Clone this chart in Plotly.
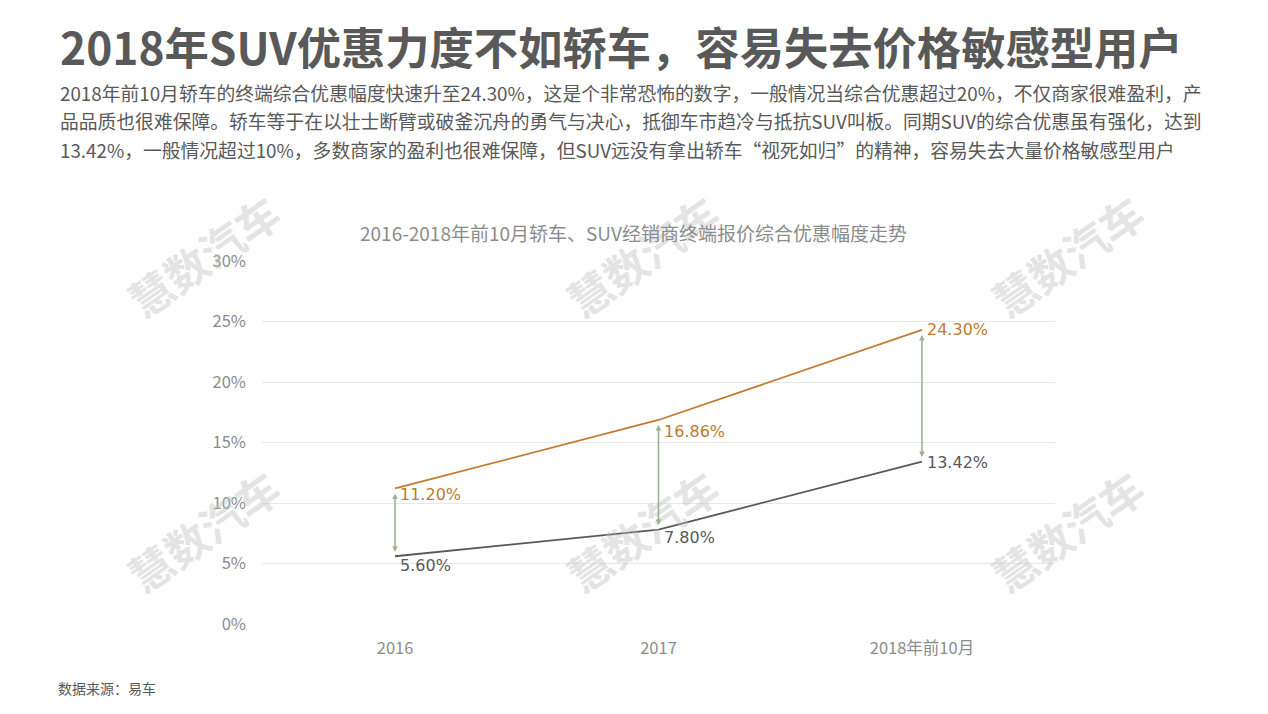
import plotly.graph_objects as go

# ---- data ----
categories = ["2016", "2017", "2018年前10月"]
sedan = [11.20, 16.86, 24.30]   # 轿车
suv = [5.60, 7.80, 13.42]       # SUV
y_ticks = [0, 5, 10, 15, 20, 25, 30]
y_tick_labels = ["0%", "5%", "10%", "15%", "20%", "25%", "30%"]

title = "2018年SUV优惠力度不如轿车，容易失去价格敏感型用户"
sub_lines = [
    "2018年前10月轿车的终端综合优惠幅度快速升至24.30%，这是个非常恐怖的数字，一般情况当综合优惠超过20%，不仅商家很难盈利，产",
    "品品质也很难保障。轿车等于在以壮士断臂或破釜沉舟的勇气与决心，抵御车市趋冷与抵抗SUV叫板。同期SUV的综合优惠虽有强化，达到",
    "13.42%，一般情况超过10%，多数商家的盈利也很难保障，但SUV远没有拿出轿车“视死如归”的精神，容易失去大量价格敏感型用户",
]
chart_title = "2016-2018年前10月轿车、SUV经销商终端报价综合优惠幅度走势"
source = "数据来源：易车"
watermark = "慧数汽车"

# ---- layout geometry (pixels) ----
W, H = 1268, 714
L, R, T, B = 262, 1055, 261, 624

def px(x):
    return (x - L) / (R - L)

def py(y):
    return (B - y) / (B - T)

CJK = "Noto Sans CJK SC"
ORANGE = "#C47B31"
GRAY = "#595959"
GREEN = "#9DB38F"

fig = go.Figure()
fig.add_trace(go.Scatter(x=categories, y=sedan, mode="lines",
                         line=dict(color=ORANGE, width=1.8), name="轿车",
                         hoverinfo="skip"))
fig.add_trace(go.Scatter(x=categories, y=suv, mode="lines",
                         line=dict(color=GRAY, width=1.8), name="SUV",
                         hoverinfo="skip"))

ann = []

# watermarks
for wx in (203, 642, 1067):
    for wy in (255, 530):
        ann.append(dict(text=watermark, xref="paper", yref="paper",
                        x=px(wx), y=py(wy), xanchor="center", yanchor="middle",
                        showarrow=False, textangle=-35,
                        font=dict(family=CJK, size=43, color="rgba(190,190,190,0.42)",
                                  weight="bold")))

# difference arrows (category index positions)
for i, (a, b) in enumerate(zip(sedan, suv)):
    ann.append(dict(x=i, y=a, ax=i, ay=b, xref="x", yref="y", axref="x", ayref="y",
                    text="", showarrow=True, arrowside="end+start", arrowhead=2,
                    arrowsize=0.7, arrowwidth=1.6, arrowcolor=GREEN,
                    standoff=5, startstandoff=3))

# data labels
sedan_shift = [-6, -12, 0]
suv_shift = [-9, -8, -1]
for i, (v, s) in enumerate(zip(sedan, sedan_shift)):
    ann.append(dict(x=i, y=v, xref="x", yref="y", text=f"{v:.2f}%", showarrow=False,
                    xanchor="left", yanchor="middle", xshift=3, yshift=s,
                    font=dict(family="DejaVu Sans", size=16, color="#C07A30")))
for i, (v, s) in enumerate(zip(suv, suv_shift)):
    ann.append(dict(x=i, y=v, xref="x", yref="y", text=f"{v:.2f}%", showarrow=False,
                    xanchor="left", yanchor="middle", xshift=3, yshift=s,
                    font=dict(family="DejaVu Sans", size=16, color=GRAY)))

# titles and text
ann.append(dict(text=f"<b>{title}</b>", xref="paper", yref="paper", x=px(58), y=py(46),
                xanchor="left", yanchor="middle", showarrow=False,
                font=dict(family=CJK, size=44.3, color="#595959")))
for i, line in enumerate(sub_lines):
    ann.append(dict(text=line, xref="paper", yref="paper", x=px(58), y=py(92 + 28.5 * i),
                    xanchor="left", yanchor="middle", showarrow=False,
                    font=dict(family=CJK, size=18.8, color="#595959")))
ann.append(dict(text=chart_title, xref="paper", yref="paper", x=px(633), y=py(232),
                xanchor="center", yanchor="middle", showarrow=False,
                font=dict(family=CJK, size=19, color="#8C8C8C")))
ann.append(dict(text=source, xref="paper", yref="paper", x=px(56), y=py(688),
                xanchor="left", yanchor="middle", showarrow=False,
                font=dict(family=CJK, size=14, color="#595959")))

fig.update_layout(
    width=W, height=H,
    margin=dict(l=L, r=W - R, t=T, b=H - B, pad=0),
    paper_bgcolor="white", plot_bgcolor="white",
    showlegend=False,
    annotations=ann,
    xaxis=dict(type="category", range=[-0.505, 2.505], showgrid=False, zeroline=False,
               showline=False, ticks="", ticklabelstandoff=12,
               tickfont=dict(family=CJK, size=16.5, color="#8C8C8C"), fixedrange=True),
    yaxis=dict(range=[0, 30], tickvals=y_ticks, ticktext=y_tick_labels, showgrid=True,
               gridcolor="#E8E8E8", gridwidth=1, zeroline=False, showline=False,
               ticks="", ticklabelstandoff=15,
               tickfont=dict(family=CJK, size=16.5, color="#8C8C8C"), fixedrange=True),
)

fig.write_html("out.html")
